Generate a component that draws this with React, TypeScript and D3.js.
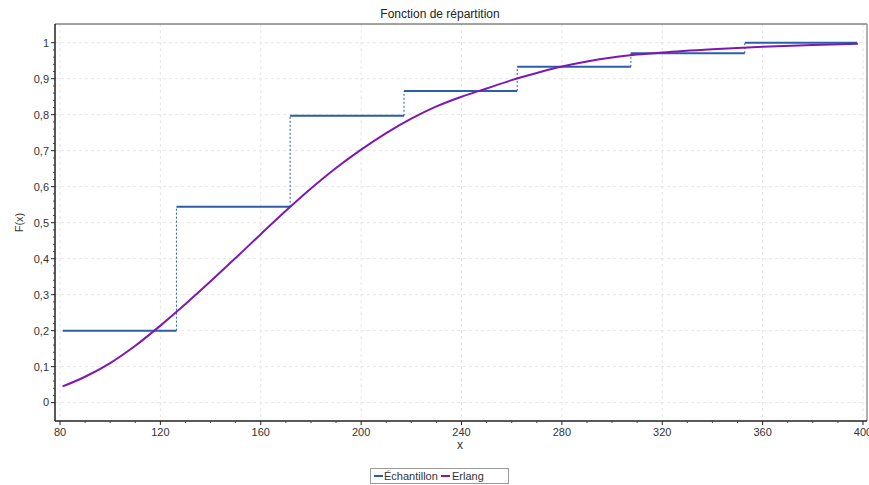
import React from "react";
import * as d3 from "d3";

const stepEdges = [81.1, 126.4, 171.7, 217.1, 262.2, 307.5, 352.9, 397.6];
const stepValues = [0.2, 0.544, 0.797, 0.866, 0.933, 0.971, 1.0];

const erlangX = [81, 90, 100, 110, 120, 130, 140, 150, 160, 170, 180, 190, 200, 210, 220, 230, 240, 250, 260, 270, 280, 290, 300, 310, 320, 340, 360, 380, 398];
const erlangF = [0.045, 0.072, 0.110, 0.158, 0.214, 0.274, 0.337, 0.402, 0.468, 0.533, 0.595, 0.652, 0.703, 0.749, 0.789, 0.823, 0.850, 0.873, 0.896, 0.916, 0.934, 0.948, 0.959, 0.967, 0.973, 0.982, 0.989, 0.994, 0.997];

const xTicks = [80, 120, 160, 200, 240, 280, 320, 360, 400];
const yTicks = [0, 0.1, 0.2, 0.3, 0.4, 0.5, 0.6, 0.7, 0.8, 0.9, 1];

const title = "Fonction de répartition";
const xLabel = "x";
const yLabel = "F(x)";
const seriesNames = ["Échantillon", "Erlang"];

const W = 869, H = 485;
const L = 55, R = 867, T = 24, B = 421;
const BLUE = "#2c5ea8";
const PURPLE = "#7e18b2";
const FONT = "'Liberation Sans', Arial, sans-serif";

export default function App() {
  const x = d3.scaleLinear().domain([78.0, 401.6]).range([L, R]);
  const y = d3.scaleLinear().domain([-0.051, 1.052]).range([B, T]);
  const fmt = (v: number) => (Math.round(v * 10) / 10).toString().replace(".", ",");

  const xMinor = d3.range(80, 401, 10).filter((v) => v % 40 !== 0);
  const yMinor = d3.range(0, 51).map((i) => i * 0.02).filter((v) => Math.abs(v * 10 - Math.round(v * 10)) > 1e-6);

  const line = d3.line<number>().x((_, i) => x(erlangX[i])).y((d) => y(d)).curve(d3.curveMonotoneX);

  return (
    <svg width={W} height={H} style={{ position: "absolute", left: 0, top: 0, background: "#fff" }} fontFamily={FONT}>
      <text x={440} y={18} textAnchor="middle" fontSize={12} fill="#222">{title}</text>
      {/* grid */}
      {xTicks.map((t) => (
        <line key={"gx" + t} x1={x(t)} x2={x(t)} y1={T} y2={B} stroke="#e6e6e6" strokeDasharray="3,3" />
      ))}
      {yTicks.map((t) => (
        <line key={"gy" + t} x1={L} x2={R} y1={y(t)} y2={y(t)} stroke="#e6e6e6" strokeDasharray="3,3" />
      ))}
      {/* border */}
      <line x1={L} x2={R} y1={T} y2={T} stroke="#444" />
      <line x1={R} x2={R} y1={T} y2={B} stroke="#999" strokeWidth={1.5} />
      {/* steps */}
      {stepValues.map((v, i) => (
        <line key={"h" + i} x1={x(stepEdges[i])} x2={x(stepEdges[i + 1])} y1={y(v)} y2={y(v)} stroke={BLUE} strokeWidth={2} />
      ))}
      {stepValues.slice(1).map((v, i) => (
        <line key={"v" + i} x1={x(stepEdges[i + 1])} x2={x(stepEdges[i + 1])} y1={y(stepValues[i])} y2={y(v)} stroke={BLUE} strokeWidth={1} strokeDasharray="2,2" />
      ))}
      {/* erlang */}
      <path d={line(erlangF) || ""} fill="none" stroke={PURPLE} strokeWidth={2} />
      {/* axes */}
      <line x1={L} x2={L} y1={T} y2={B} stroke="#222" strokeWidth={1.5} />
      <line x1={L} x2={R} y1={B} y2={B} stroke="#222" strokeWidth={1.5} />
      {yTicks.map((t) => (
        <g key={"yt" + t}>
          <line x1={L - 4} x2={L} y1={y(t)} y2={y(t)} stroke="#222" />
          <text x={L - 6} y={y(t)} dy="0.35em" textAnchor="end" fontSize={11} fill="#333">{fmt(t)}</text>
        </g>
      ))}
      {yMinor.map((t) => (
        <line key={"ym" + t} x1={L - 2} x2={L} y1={y(t)} y2={y(t)} stroke="#444" />
      ))}
      {xTicks.map((t) => (
        <g key={"xt" + t}>
          <line x1={x(t)} x2={x(t)} y1={B} y2={B + 4} stroke="#222" />
          <text x={x(t)} y={B + 15} textAnchor="middle" fontSize={11} fill="#333">{t}</text>
        </g>
      ))}
      {xMinor.map((t) => (
        <line key={"xm" + t} x1={x(t)} x2={x(t)} y1={B} y2={B + 2} stroke="#444" />
      ))}
      <text x={460} y={449} textAnchor="middle" fontSize={12} fill="#333">{xLabel}</text>
      <text transform={`translate(23,${(T + B) / 2}) rotate(-90)`} textAnchor="middle" fontSize={11} fill="#333">{yLabel}</text>
      {/* legend */}
      <rect x={370.5} y={468.5} width={138} height={15} fill="#fff" stroke="#999" />
      <line x1={374} x2={383} y1={476} y2={476} stroke={BLUE} strokeWidth={2} />
      <text x={384} y={480} fontSize={11} fill="#333">{seriesNames[0]}</text>
      <line x1={441} x2={450} y1={476} y2={476} stroke={PURPLE} strokeWidth={2} />
      <text x={452} y={480} fontSize={11} fill="#333">{seriesNames[1]}</text>
    </svg>
  );
}
